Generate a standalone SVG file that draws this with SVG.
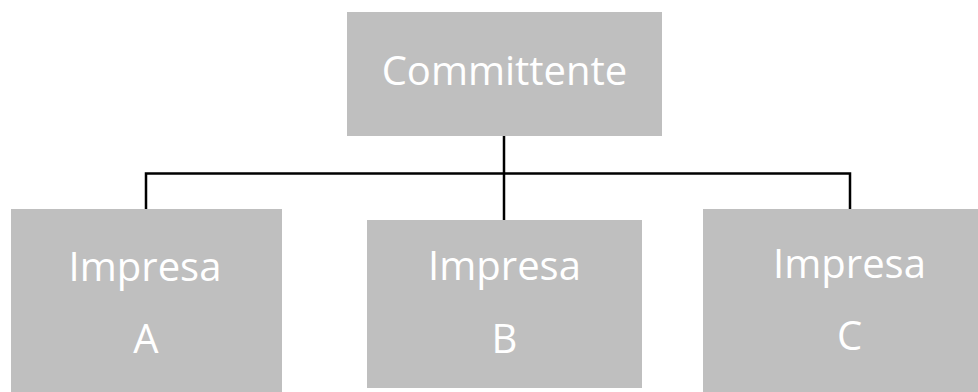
<svg xmlns="http://www.w3.org/2000/svg" width="978" height="392" viewBox="0 0 978 392">
<style>
.box{fill:#BFBFBF}
.t{fill:#FFFFFF;font-family:"Open Sans","Liberation Sans",sans-serif;font-size:40px;text-anchor:middle}
.c{fill:none;stroke:#000000;stroke-width:2.5}
</style>
<rect width="978" height="392" fill="#FFFFFF"/>
<g id="connectors">
<path class="c" d="M504 136 V220"/>
<path class="c" d="M146 209 V173.5 H850 V209"/>
</g>
<g id="committente">
<rect class="box" x="347" y="12" width="315" height="124"/>
<text class="t" x="504.5" y="85">Committente</text>
</g>
<g id="impresa-a">
<rect class="box" x="11" y="209" width="271" height="183"/>
<text class="t" x="145" y="281">Impresa</text>
<text class="t" x="146" y="353">A</text>
</g>
<g id="impresa-b">
<rect class="box" x="367" y="220" width="275" height="168"/>
<text class="t" x="504.5" y="280">Impresa</text>
<text class="t" x="504.5" y="353">B</text>
</g>
<g id="impresa-c">
<rect class="box" x="703" y="209" width="275" height="183"/>
<text class="t" x="849.5" y="278">Impresa</text>
<text class="t" x="849.5" y="350">C</text>
</g>
</svg>
